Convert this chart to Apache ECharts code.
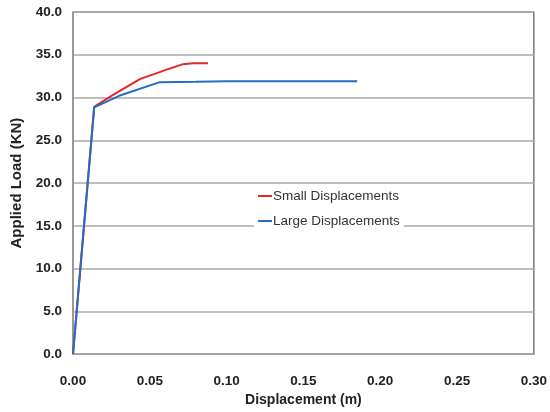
<!DOCTYPE html>
<html><head><meta charset="utf-8">
<script src="https://cdn.jsdelivr.net/npm/echarts@6/dist/echarts.min.js"></script>
<style>html,body{margin:0;padding:0;background:#fff}#c{width:550px;height:412px}</style>
</head><body><div id="c"></div>
<script>
const smallX = [0, 0.0138, 0.025, 0.0435, 0.060, 0.0716, 0.078, 0.0879];
const smallY = [0, 28.9, 30.2, 32.15, 33.2, 33.9, 34.0, 34.0];
const largeX = [0, 0.0138, 0.030, 0.0565, 0.080, 0.100, 0.140, 0.185];
const largeY = [0, 28.85, 30.2, 31.8, 31.85, 31.9, 31.9, 31.9];
const seriesNames = ['Small Displacements', 'Large Displacements'];

const chart = echarts.init(document.getElementById('c'));
const font = 'Liberation Sans, Arial, sans-serif';
chart.setOption({
  animation: false,
  backgroundColor: '#fff',
  grid: {left: 73, right: 15, top: 12, bottom: 57, show: true, borderColor: '#555', borderWidth: 1.2},
  legend: {
    orient: 'vertical', left: 254, top: 186, backgroundColor: '#fff',
    padding: [3, 4, 3, 4], itemGap: 11, itemWidth: 14, itemHeight: 2, icon: 'rect',
    textStyle: {fontFamily: font, fontSize: 13.5, color: '#333', padding: [0, 0, 0, -4]},
    data: seriesNames
  },
  xAxis: {
    type: 'value', min: 0, max: 0.30, interval: 0.05,
    name: 'Displacement (m)', nameLocation: 'middle', nameGap: 37,
    nameTextStyle: {fontFamily: font, fontWeight: 'bold', fontSize: 14, color: '#222'},
    axisLine: {show: false}, axisTick: {show: false},
    axisLabel: {fontFamily: font, fontWeight: 'bold', fontSize: 13.5, color: '#222', margin: 20,
      formatter: v => v.toFixed(2)},
    splitLine: {show: false}
  },
  yAxis: {
    type: 'value', min: 0, max: 40, interval: 5,
    name: 'Applied Load (KN)', nameLocation: 'middle', nameGap: 40,
    nameTextStyle: {fontFamily: font, fontWeight: 'bold', fontSize: 15, color: '#222'},
    axisLine: {show: true, lineStyle: {color: '#999', width: 1.5}}, axisTick: {show: false},
    axisLabel: {fontFamily: font, fontWeight: 'bold', fontSize: 13.5, color: '#222', margin: 11,
      formatter: v => v.toFixed(1)},
    splitLine: {show: true, lineStyle: {color: '#aaa', width: 1.5}}
  },
  series: [
    {name: seriesNames[0], type: 'line', showSymbol: false, smooth: false,
      data: smallX.map((x, i) => [x, smallY[i]]),
      lineStyle: {color: '#e3262b', width: 2}, itemStyle: {color: '#e3262b'}},
    {name: seriesNames[1], type: 'line', showSymbol: false, smooth: false,
      data: largeX.map((x, i) => [x, largeY[i]]),
      lineStyle: {color: '#1f6fc4', width: 2}, itemStyle: {color: '#1f6fc4'}}
  ]
});
</script></body></html>
